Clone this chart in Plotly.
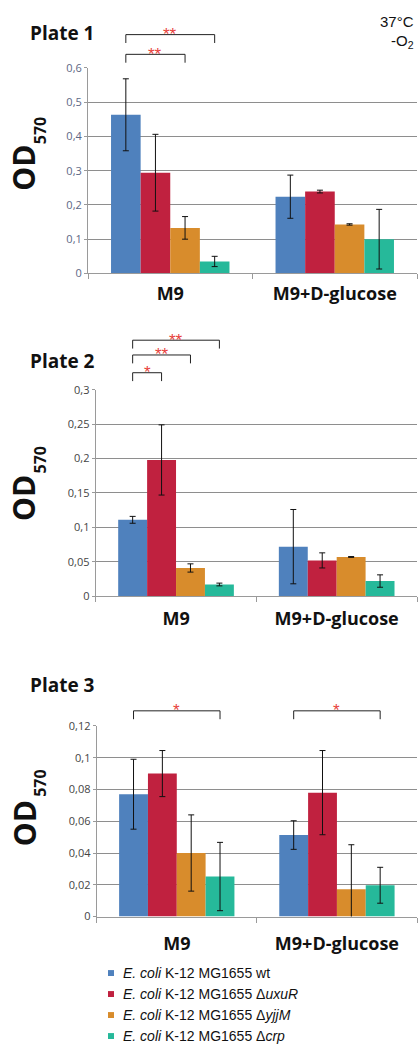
import plotly.graph_objects as go

# ---------------- data ----------------
groups = ["M9", "M9+D-glucose"]
strains = [
    "<i>E. coli</i> K-12 MG1655 wt",
    "<i>E. coli</i> K-12 MG1655 Δ<i>uxuR</i>",
    "<i>E. coli</i> K-12 MG1655 Δ<i>yjjM</i>",
    "<i>E. coli</i> K-12 MG1655 Δ<i>crp</i>",
]
colors = ["#4f81bd", "#c0213f", "#d88c2c", "#26b99a"]

plate1_wt = [0.463, 0.224]
plate1_uxuR = [0.294, 0.239]
plate1_yjjM = [0.133, 0.143]
plate1_crp = [0.035, 0.100]
plate1_wt_err = [0.105, 0.063]
plate1_uxuR_err = [0.112, 0.004]
plate1_yjjM_err = [0.033, 0.002]
plate1_crp_err = [0.015, 0.087]

plate2_wt = [0.111, 0.072]
plate2_uxuR = [0.198, 0.052]
plate2_yjjM = [0.041, 0.057]
plate2_crp = [0.017, 0.022]
plate2_wt_err = [0.005, 0.054]
plate2_uxuR_err = [0.051, 0.011]
plate2_yjjM_err = [0.006, 0.0006]
plate2_crp_err = [0.002, 0.009]

plate3_wt = [0.077, 0.0513]
plate3_uxuR = [0.090, 0.078]
plate3_yjjM = [0.040, 0.0172]
plate3_crp = [0.0252, 0.0197]
plate3_wt_err = [0.022, 0.009]
plate3_uxuR_err = [0.0145, 0.0265]
plate3_yjjM_err = [0.024, 0.028]
plate3_crp_err = [0.0215, 0.0113]

plate1_ticks = [0, 0.1, 0.2, 0.3, 0.4, 0.5, 0.6]
plate1_ticktext = ["0", "0,1", "0,2", "0,3", "0,4", "0,5", "0,6"]
plate2_ticks = [0, 0.05, 0.1, 0.15, 0.2, 0.25, 0.3]
plate2_ticktext = ["0", "0,05", "0,1", "0,15", "0,2", "0,25", "0,3"]
plate3_ticks = [0, 0.02, 0.04, 0.06, 0.08, 0.1, 0.12]
plate3_ticktext = ["0", "0,02", "0,04", "0,06", "0,08", "0,1", "0,12"]

plate_titles = ["Plate 1", "Plate 2", "Plate 3"]

# significance: (group index, strain from, strain to, label)
plate1_sig = [(0, 0, 3, "**"), (0, 0, 2, "**")]
plate2_sig = [(0, 0, 3, "**"), (0, 0, 2, "**"), (0, 0, 1, "*")]
plate3_sig = [(0, 0, 3, "*"), (1, 0, 3, "*")]

# ---------------- layout helpers ----------------
W, H = 418, 1052
def fx(px):
    return px / W
def fy(py):
    return 1 - py / H

BARGAP = 0.28
NS = 4
bw = (1 - BARGAP) / NS
def bar_center(g, s):
    return g - (1 - BARGAP) / 2 + bw * (s + 0.5)

plates = [
    dict(vals=[plate1_wt, plate1_uxuR, plate1_yjjM, plate1_crp],
         errs=[plate1_wt_err, plate1_uxuR_err, plate1_yjjM_err, plate1_crp_err],
         ticks=plate1_ticks, ticktext=plate1_ticktext, sig=plate1_sig,
         x0=88, top=60.7, bottom=269.3, tickcolor="#5d6785",
         title_y=25, od_y=162, sub_y=125, brk=[27, 47], label_standoff=4),
    dict(vals=[plate2_wt, plate2_uxuR, plate2_yjjM, plate2_crp],
         errs=[plate2_wt_err, plate2_uxuR_err, plate2_yjjM_err, plate2_crp_err],
         ticks=plate2_ticks, ticktext=plate2_ticktext, sig=plate2_sig,
         x0=95.7, top=387.3, bottom=596.7, tickcolor="#444444",
         title_y=358, od_y=497, sub_y=459, brk=[337, 352, 370], label_standoff=6),
    dict(vals=[plate3_wt, plate3_uxuR, plate3_yjjM, plate3_crp],
         errs=[plate3_wt_err, plate3_uxuR_err, plate3_yjjM_err, plate3_crp_err],
         ticks=plate3_ticks, ticktext=plate3_ticktext, sig=plate3_sig,
         x0=96.7, top=728.3, bottom=921.7, tickcolor="#444444",
         title_y=687, od_y=827, sub_y=787, brk=[713, 713], label_standoff=11),
]

fig = go.Figure()
shapes = []
annotations = []
layout_axes = {}

for p, pl in enumerate(plates):
    sfx = "" if p == 0 else str(p + 1)
    xa, ya = "x" + sfx, "y" + sfx
    for s in range(NS):
        fig.add_trace(go.Bar(
            x=groups, y=pl["vals"][s], name=strains[s],
            marker=dict(color=colors[s], line=dict(width=0)),
            error_y=dict(type="data", array=pl["errs"][s], color="#111111",
                         thickness=1, width=3),
            xaxis=xa, yaxis=ya, showlegend=False,
        ))
    layout_axes["xaxis" + sfx] = dict(
        domain=[fx(pl["x0"]), fx(417)], anchor=ya,
        type="category", range=[-0.5, 1.5],
        showline=True, linecolor="#9a9a9a", linewidth=1,
        ticks="outside", tickson="boundaries", ticklen=5, tickcolor="#9a9a9a",
        tickfont=dict(family="Open Sans", size=18, color="#111111", weight="bold"),
        ticklabelstandoff=pl["label_standoff"],
        showgrid=False, zeroline=False, fixedrange=True,
    )
    layout_axes["yaxis" + sfx] = dict(
        domain=[fy(pl["bottom"]), fy(pl["top"])], anchor=xa,
        range=[0, pl["ticks"][-1]],
        tickvals=pl["ticks"], ticktext=pl["ticktext"],
        tickfont=dict(family="Open Sans", size=11, color=pl["tickcolor"]),
        showline=True, linecolor="#9a9a9a", linewidth=1,
        ticks="outside", ticklen=3, tickcolor="#9a9a9a",
        showgrid=True, gridcolor="#8e8e8e", gridwidth=1,
        zeroline=False, fixedrange=True,
    )

    # plate title
    annotations.append(dict(text="<b>" + plate_titles[p] + "</b>", xref="paper", yref="paper",
                            x=fx(28), y=fy(pl["title_y"]), xanchor="left", yanchor="middle",
                            showarrow=False, font=dict(family="Open Sans", size=19, color="#111111")))
    # y title OD570
    annotations.append(dict(text="<b>OD</b>", xref="paper", yref="paper",
                            x=fx(24), y=fy(pl["od_y"]), xanchor="center", yanchor="middle",
                            textangle=-90, showarrow=False,
                            font=dict(family="Open Sans", size=30, color="#111111")))
    annotations.append(dict(text="<b>570</b>", xref="paper", yref="paper",
                            x=fx(40), y=fy(pl["sub_y"]), xanchor="center", yanchor="middle",
                            textangle=-90, showarrow=False,
                            font=dict(family="Open Sans", size=16, color="#111111")))

    # significance brackets
    for k, (g, a, b, lab) in enumerate(pl["sig"]):
        ytop = pl["brk"][k]
        xa0 = bar_center(g, a)
        xa1 = bar_center(g, b)
        for (x0_, y0_, x1_, y1_) in [(xa0, ytop, xa1, ytop), (xa0, ytop, xa0, ytop + 8.5),
                                     (xa1, ytop, xa1, ytop + 8.5)]:
            shapes.append(dict(type="line", xref=xa, yref="paper",
                               x0=x0_, x1=x1_, y0=fy(y0_), y1=fy(y1_),
                               line=dict(color="#222222", width=1)))
        annotations.append(dict(text=lab, xref=xa, yref="paper",
                                x=(xa0 + xa1) / 2, y=fy(ytop), xanchor="center",
                                yanchor="middle", showarrow=False,
                                font=dict(family="Liberation Sans", size=17, color="#e8413c")))

# 37 C, -O2
annotations.append(dict(text="37°C", xref="paper", yref="paper", x=fx(416), y=fy(14),
                        xanchor="right", yanchor="middle", showarrow=False,
                        font=dict(family="Liberation Sans", size=15, color="#111111")))
annotations.append(dict(text="-O<sub>2</sub>", xref="paper", yref="paper", x=fx(416), y=fy(34),
                        xanchor="right", yanchor="middle", showarrow=False,
                        font=dict(family="Liberation Sans", size=15, color="#111111")))

# legend (drawn as swatches + labels)
legend_y0, legend_dy = 979, 21.3
for s in range(NS):
    yc = legend_y0 + legend_dy * s
    shapes.append(dict(type="rect", xref="paper", yref="paper",
                       x0=fx(108), x1=fx(114), y0=fy(yc + 3), y1=fy(yc - 3),
                       fillcolor=colors[s], line=dict(width=0)))
    annotations.append(dict(text=strains[s], xref="paper", yref="paper",
                            x=fx(121), y=fy(yc), xanchor="left", yanchor="middle",
                            showarrow=False,
                            font=dict(family="Liberation Sans", size=14, color="#111111")))

fig.update_layout(
    width=W, height=H,
    margin=dict(l=0, r=0, t=0, b=0),
    paper_bgcolor="white", plot_bgcolor="white",
    barmode="group", bargap=BARGAP, bargroupgap=0,
    shapes=shapes, annotations=annotations,
    showlegend=False,
    **layout_axes,
)

fig.write_html("out.html")
